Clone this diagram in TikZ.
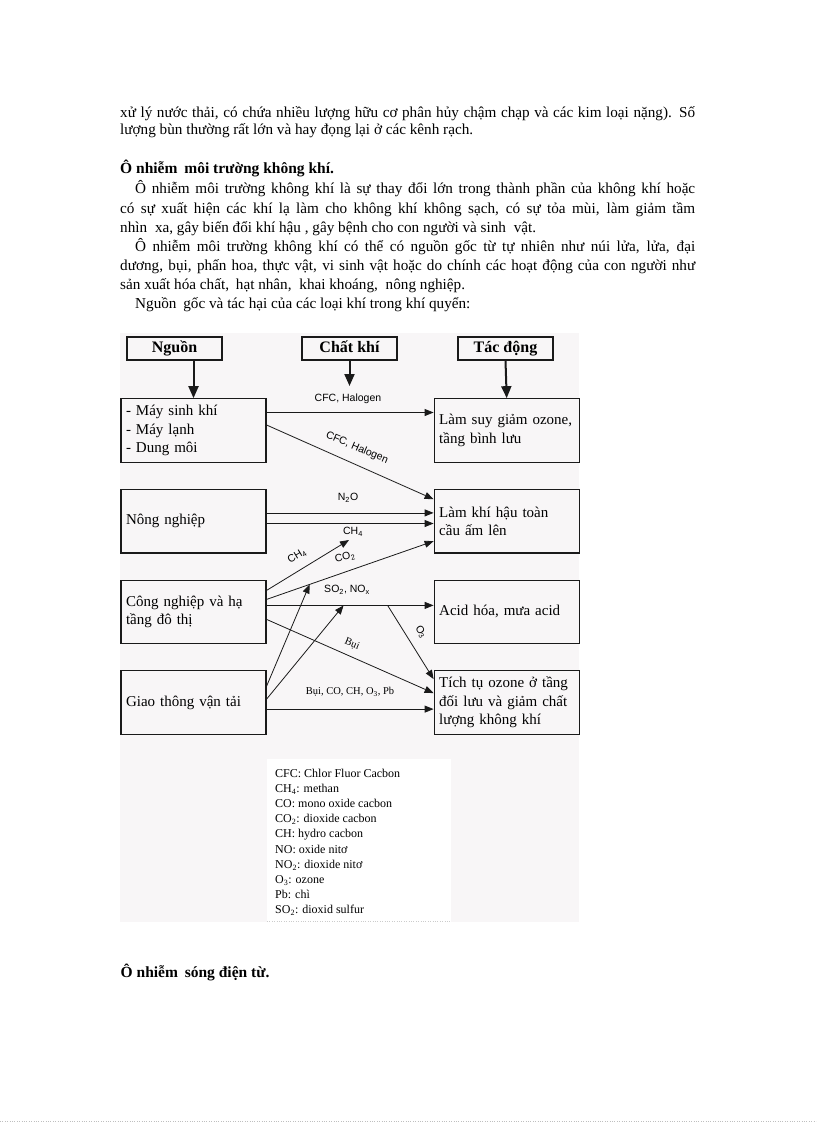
\documentclass[tikz,border=0pt]{standalone}
\usepackage{fontspec}
\setmainfont{Liberation Serif}
\setsansfont{Liberation Sans}
\usetikzlibrary{arrows.meta, positioning, calc}
\definecolor{speckle}{HTML}{F8F6F7}
\definecolor{boxline}{HTML}{1A1A1A}

\begin{document}
\begin{tikzpicture}[x=1pt, y=-1pt]
\tikzstyle{bodyline} = [anchor=base west, inner sep=0pt, font=\fontsize{15.2}{19}\selectfont]
\tikzstyle{headline} = [anchor=base west, inner sep=0pt, font=\fontsize{15.5}{19}\selectfont\bfseries]
\tikzstyle{titlebox} = [rectangle, draw=boxline, line width=1.4pt, minimum width=95pt, minimum height=23pt, text height=11pt, text depth=3.5pt, inner sep=0pt, font=\fontsize{16}{19}\selectfont\bfseries]
\tikzstyle{sourcebox} = [rectangle, draw=boxline, line width=1.2pt, minimum width=145pt, minimum height=63.5pt, text width=135pt, align=left, inner sep=5pt, font=\fontsize{15}{18.5}\selectfont]
\tikzstyle{gaslabel} = [inner sep=1pt, font=\sffamily\fontsize{10.5}{12}\selectfont]
\tikzstyle{gasserif} = [inner sep=1pt, font=\fontsize{10.5}{12}\selectfont]
\tikzstyle{legendline} = [anchor=base west, inner sep=0pt, font=\fontsize{12}{15}\selectfont]
\tikzstyle{flow} = [-{Triangle[length=9pt,width=7pt]}, line width=0.8pt, draw=boxline]
\tikzstyle{headflow} = [-{Triangle[length=12pt,width=10pt]}, line width=2pt, draw=boxline]

\useasboundingbox (0,0) rectangle (816,1123);

% text above the diagram
\node (para1a) [bodyline] at (120,117.3) {\makebox[575pt][s]{xử lý nước thải, có chứa nhiều lượng hữu cơ phân hủy chậm chạp và các kim loại nặng). Số}};
\node (para1b) [bodyline] at (120,135) {lượng bùn thường rất lớn và hay đọng lại ở các kênh rạch.};
\node (heading1) [headline] at (120,174) {Ô nhiễm\hspace{3pt} môi trường không khí.};
\node (para2a) [bodyline] at (135,194) {\makebox[560pt][s]{Ô nhiễm môi trường không khí là sự thay đổi lớn trong thành phần của không khí hoặc}};
\node (para2b) [bodyline] at (120,213.3) {\makebox[575pt][s]{có sự xuất hiện các khí lạ làm cho không khí không sạch, có sự tỏa mùi, làm giảm tầm}};
\node (para2c) [bodyline] at (120,232.3) {nhìn\hspace{4pt} xa, gây biến đổi khí hậu , gây bệnh cho con người và sinh\hspace{4pt} vật.};
\node (para3a) [bodyline] at (135,251.7) {\makebox[560pt][s]{Ô nhiễm môi trường không khí có thể có nguồn gốc từ tự nhiên như núi lửa, lửa, đại}};
\node (para3b) [bodyline] at (120,270.7) {\makebox[575pt][s]{dương, bụi, phấn hoa, thực vật, vi sinh vật hoặc do chính các hoạt động của con người như}};
\node (para3c) [bodyline] at (120,289) {sản xuất hóa chất,\hspace{3pt} hạt nhân,\hspace{4pt} khai khoáng,\hspace{4pt} nông nghiệp.};
\node (para4) [bodyline] at (135,308.3) {Nguồn\hspace{3pt} gốc và tác hại của các loại khí trong khí quyển:};

% diagram background and legend area
\fill[speckle] (120,333) rectangle (579,922);
\fill[white] (267,759) rectangle (451,922);
\draw[gray!40, dotted] (267,921.5) -- (451,921.5);

% column titles
\node (nguon) [titlebox] at (174.5,348.5) {Nguồn};
\node (chatkhi) [titlebox] at (349.5,348.5) {Chất khí};
\node (tacdong) [titlebox] at (505.5,348.5) {Tác động};

% sources
\node (may) [sourcebox] at (193.5,430.5) {- Máy sinh khí\\- Máy lạnh\\- Dung môi};
\node (nong) [sourcebox, below=26pt of may] {Nông nghiệp};
\node (cong) [sourcebox, below=26pt of nong] {Công nghiệp và hạ\\tầng đô thị};
\node (giao) [sourcebox, below=26pt of cong] {Giao thông vận tải};

% effects
\node (suy) [sourcebox, right=167pt of may] {Làm suy giảm ozone,\\tầng bình lưu};
\node (khihau) [sourcebox, right=167pt of nong] {Làm khí hậu toàn\\cầu ấm lên};
\node (acid) [sourcebox, right=167pt of cong] {Acid hóa, mưa acid};
\node (tichtu) [sourcebox, right=167pt of giao] {Tích tụ ozone ở tầng\\đối lưu và giảm chất\\lượng không khí};

% title arrows
\coordinate (gasin) at (349.5,386);
\draw[headflow] (nguon.south -| may.north) -- (may.north);
\draw[headflow] (chatkhi.south) -- (gasin);
\draw[headflow] (tacdong.south) -- (suy.north);

% helper points
\coordinate (co2start) at ([yshift=12.5pt]cong.east);
\coordinate (co2end) at ([yshift=-20pt]khihau.west);
\coordinate (so2start) at ([yshift=6.5pt]cong.east);
\coordinate (so2end) at ([yshift=6.5pt]acid.west);
\coordinate (co2mid) at ($(co2start)!0.2575!(co2end)$);
\coordinate (so2mid) at ($(so2start)!0.461!(so2end)$);
\coordinate (o3start) at ($(so2start)!0.7246!(so2end)$);
\coordinate (ch4end) at (349,540);

% gas flows
\draw[flow] ([yshift=18pt]may.east) -- ([yshift=18pt]suy.west);
\draw[flow] ([yshift=5.5pt]may.east) -- ([yshift=22pt]khihau.west);
\draw[flow] ([yshift=8.3pt]nong.east) -- ([yshift=8.3pt]khihau.west);
\draw[flow] ([yshift=-2.3pt]nong.east) -- ([yshift=-2.3pt]khihau.west);
\draw[flow] ([yshift=21.5pt]cong.east) -- (ch4end);
\draw[flow] (co2start) -- (co2end);
\draw[flow] (so2start) -- (so2end);
\draw[flow] (o3start) -- ([yshift=23.5pt]tichtu.west);
\draw[flow] ([yshift=-7.5pt]cong.east) -- ([yshift=9.5pt]tichtu.west);
\draw[flow] ([yshift=16.5pt]giao.east) -- (co2mid);
\draw[flow] ([yshift=3.5pt]giao.east) -- (so2mid);
\draw[flow] ([yshift=-6.5pt]giao.east) -- ([yshift=-6.5pt]tichtu.west);

% gas labels
\node (lblcfc) [gaslabel] at (348,399) {CFC, Halogen};
\node (lblcfcdiag) [gaslabel, rotate=-23] at (357,448) {CFC, Halogen};
\node (lbln2o) [gaslabel] at (348,498) {N\textsubscript{2}O};
\node (lblch4) [gaslabel, rotate=31] at (297,556) {CH\textsubscript{4}};
\node (lblch4tip) [gaslabel] at (353,532) {CH\textsubscript{4}};
\node (lblco2) [gaslabel, rotate=14] at (345,557) {CO\textsubscript{2}};
\node (lblso2) [gaslabel] at (347,590) {SO\textsubscript{2}, NO\textsubscript{x}};
\node (lblo3) [gaslabel, rotate=-57] at (421,632) {O\textsubscript{3}};
\node (lblbui) [gasserif, rotate=-23] at (352,644) {Bụi};
\node (lblgiao) [gasserif] at (350,692) {Bụi, CO, CH, O\textsubscript{3}, Pb};

% legend
\foreach \txt [count=\i] in {CFC: Chlor Fluor Cacbon, CH\textsubscript{4}: methan, CO: mono oxide cacbon, CO\textsubscript{2}: dioxide cacbon, CH: hydro cacbon, NO: oxide nitơ, NO\textsubscript{2}: dioxide nitơ, O\textsubscript{3}: ozone, Pb: chì, SO\textsubscript{2}: dioxid sulfur}
  \node (legend\i) [legendline] at (275,761.8+15.2*\i) {\txt};

% text below the diagram
\node (heading2) [headline] at (120.5,977.7) {Ô nhiễm\hspace{3pt} sóng điện từ.};
\draw[gray!50, dotted] (0,1121.5) -- (816,1121.5);

\end{tikzpicture}
\end{document}
